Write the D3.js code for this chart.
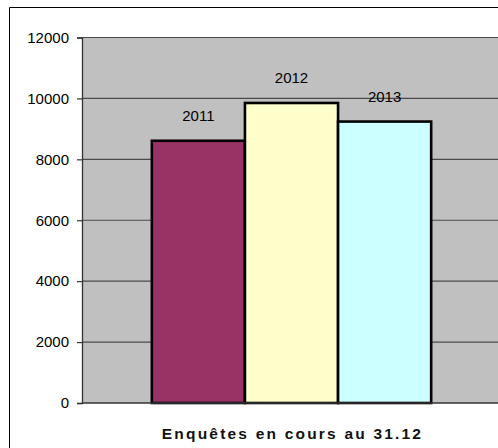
<!DOCTYPE html>
<html>
<head>
<meta charset="utf-8">
<script src="https://cdn.jsdelivr.net/npm/d3@7"></script>
<style>
  html, body { margin: 0; padding: 0; background: #ffffff; overflow: hidden; }
  svg { display: block; }
</style>
</head>
<body>
<svg id="chart" width="498" height="448"></svg>
<script>
// Open investigations at year end (31 December)
const category = "Enquêtes en cours au 31.12";
const years = ["2011", "2012", "2013"];
const values = [8610, 9850, 9240];
const colors = ["#993366", "#ffffcc", "#ccffff"];
const yTicks = [0, 2000, 4000, 6000, 8000, 10000, 12000];

const svg = d3.select("#chart");
const font = "'Liberation Sans', Arial, sans-serif";

const plot = { left: 82, right: 501, top: 37.5, bottom: 403 };

// Outer chart frame: only its left and top edges fall inside the canvas
svg.append("path")
  .attr("d", "M9.5,448 L9.5,7.5 L498,7.5")
  .attr("fill", "none")
  .attr("stroke", "#000000")
  .attr("stroke-width", 1);

const y = d3.scaleLinear().domain([0, 12000]).range([plot.bottom, plot.top]);

const x0 = d3.scaleBand()
  .domain([category])
  .range([plot.left, plot.right])
  .paddingInner(0)
  .paddingOuter(0.25);

const x1 = d3.scaleBand()
  .domain(years)
  .range([0, x0.bandwidth()])
  .padding(0);

// Plot area background
svg.append("rect")
  .attr("x", plot.left).attr("y", plot.top)
  .attr("width", plot.right - plot.left)
  .attr("height", plot.bottom - plot.top)
  .attr("fill", "#c0c0c0");

// Horizontal gridlines
svg.append("g")
  .selectAll("line")
  .data(yTicks.filter(d => d > 0))
  .join("line")
  .attr("x1", plot.left).attr("x2", plot.right)
  .attr("y1", d => y(d)).attr("y2", d => y(d))
  .attr("stroke", "#4a4a4a")
  .attr("stroke-width", 1.2);

// Bars
const series = years.map((yr, i) => ({ year: yr, value: values[i], color: colors[i] }));

svg.append("g")
  .selectAll("rect")
  .data(series)
  .join("rect")
  .attr("x", d => x0(category) + x1(d.year))
  .attr("y", d => y(d.value))
  .attr("width", x1.bandwidth())
  .attr("height", d => y(0) - y(d.value))
  .attr("fill", d => d.color)
  .attr("stroke", "#000000")
  .attr("stroke-width", 2.6);

// Year labels above bars
svg.append("g")
  .selectAll("text")
  .data(series)
  .join("text")
  .attr("x", d => x0(category) + x1(d.year) + x1.bandwidth() / 2)
  .attr("y", d => y(d.value) - 19.5)
  .attr("text-anchor", "middle")
  .attr("font-family", font)
  .attr("font-size", 15)
  .attr("fill", "#000000")
  .text(d => d.year);

// Y axis
const yAxis = d3.axisLeft(y)
  .tickValues(yTicks)
  .tickFormat(d3.format("d"))
  .tickSize(5)
  .tickPadding(8);

const gy = svg.append("g")
  .attr("transform", `translate(${plot.left},0)`)
  .call(yAxis);
gy.select(".domain").attr("stroke", "#333333").attr("stroke-width", 1.3);
gy.selectAll(".tick line").attr("stroke", "#333333").attr("stroke-width", 1.2);
gy.selectAll(".tick text")
  .attr("font-family", font)
  .attr("font-size", 15)
  .attr("fill", "#000000");

// Category axis line
svg.append("line")
  .attr("x1", plot.left).attr("x2", plot.right)
  .attr("y1", y(0)).attr("y2", y(0))
  .attr("stroke", "#333333")
  .attr("stroke-width", 1.3);

// Category label
svg.append("text")
  .attr("x", x0(category) + x0.bandwidth() / 2 + 1)
  .attr("y", 439)
  .attr("text-anchor", "middle")
  .attr("font-family", font)
  .attr("font-size", 15.5)
  .attr("font-weight", "bold")
  .attr("letter-spacing", "2.2px")
  .attr("fill", "#111111")
  .text(category);
</script>
</body>
</html>
